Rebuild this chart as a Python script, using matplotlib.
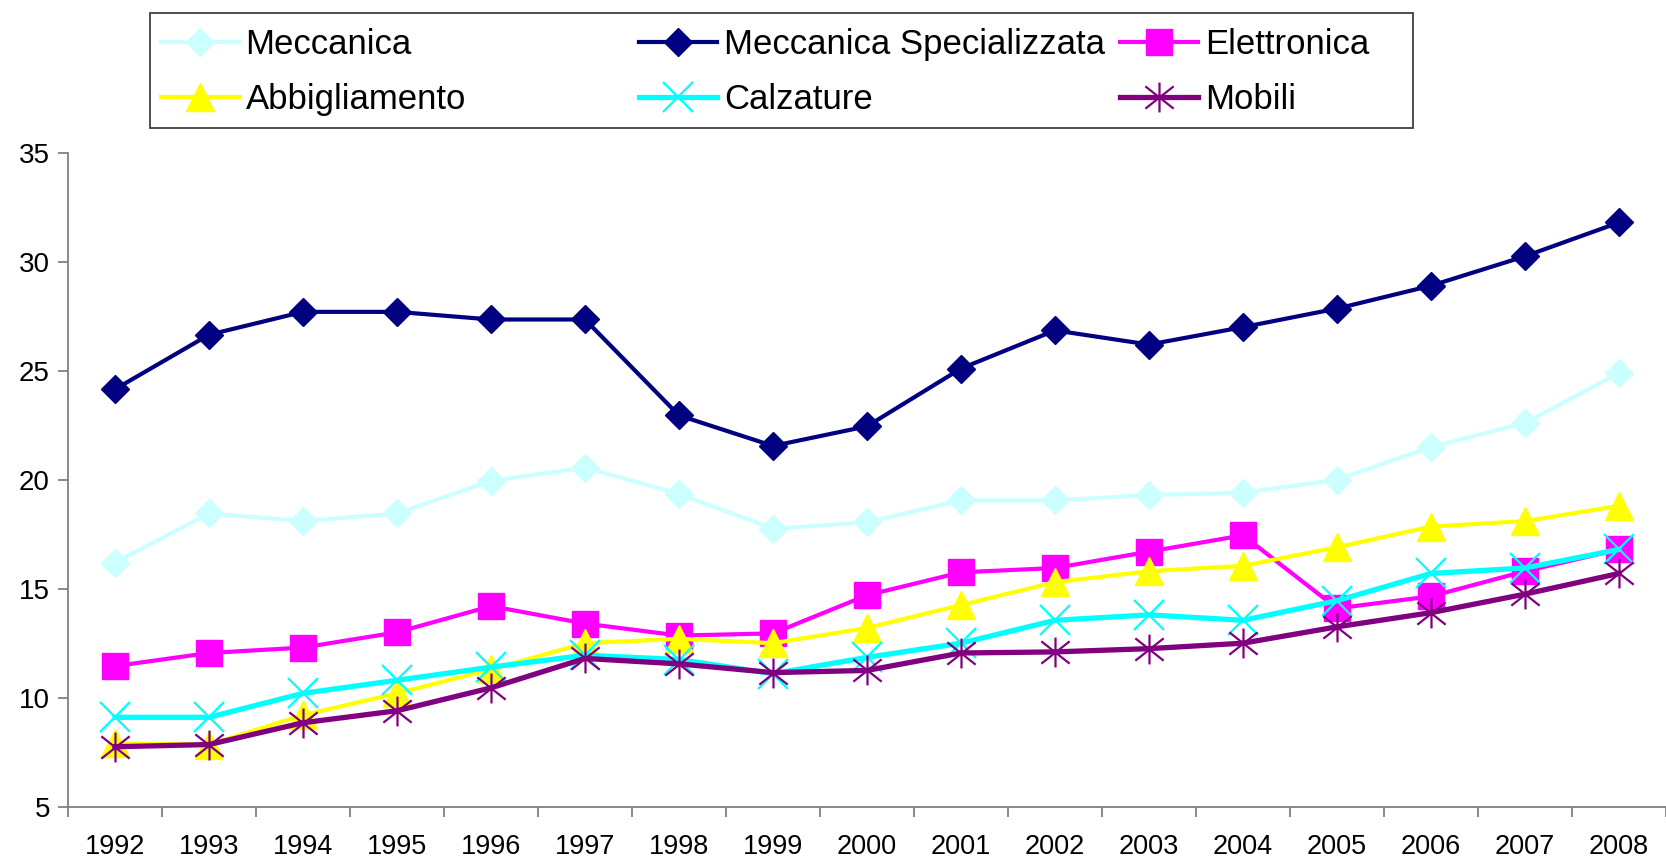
import numpy as np
import matplotlib
matplotlib.use("Agg")
from matplotlib import pyplot as plt
from matplotlib.path import Path
from matplotlib.patches import Rectangle

plt.rcParams['font.family'] = ['Liberation Sans', 'DejaVu Sans']

years = [str(y) for y in range(1992, 2009)]
meccanica = [16.2, 18.45, 18.1, 18.45, 19.95, 20.55, 19.35, 17.75, 18.05, 19.05, 19.05, 19.3, 19.4, 20.0, 21.5, 22.6, 24.9]
mecc_spec = [24.15, 26.65, 27.7, 27.7, 27.35, 27.35, 22.95, 21.55, 22.45, 25.1, 26.85, 26.2, 27.0, 27.85, 28.9, 30.25, 31.8]
elettronica = [11.45, 12.05, 12.3, 13.0, 14.2, 13.4, 12.85, 12.95, 14.7, 15.75, 15.95, 16.7, 17.45, 14.1, 14.65, 15.8, 16.8]
abbigliamento = [7.9, 7.85, 9.2, 10.2, 11.3, 12.5, 12.7, 12.5, 13.2, 14.25, 15.3, 15.8, 16.05, 16.9, 17.85, 18.1, 18.8]
calzature = [9.1, 9.1, 10.2, 10.8, 11.4, 11.95, 11.75, 11.1, 11.85, 12.5, 13.55, 13.8, 13.55, 14.45, 15.7, 15.95, 16.8]
mobili = [7.75, 7.85, 8.85, 9.4, 10.45, 11.8, 11.55, 11.15, 11.25, 12.05, 12.1, 12.25, 12.5, 13.25, 13.9, 14.75, 15.7]

# asterisk marker like the excel one (vertical bar + X)
star = Path([(0, -1), (0, 1), (-0.95, -0.75), (0.95, 0.75), (-0.95, 0.75), (0.95, -0.75)],
            [Path.MOVETO, Path.LINETO] * 3)

fig = plt.figure(figsize=(16.66, 8.61), dpi=100)
ax = fig.add_axes([0.0408, 0.0631, 0.9592, 0.7595])
x = np.arange(len(years))

h_mec, = ax.plot(x, meccanica, color='#CCFFFF', lw=3.0, marker='D', ms=14.5, label='Meccanica')
h_spec, = ax.plot(x, mecc_spec, color='#000080', lw=3.0, marker='D', ms=14.5, label='Meccanica Specializzata')
h_ele, = ax.plot(x, elettronica, color='#FF00FF', lw=3.0, marker='s', ms=19, label='Elettronica')
h_abb, = ax.plot(x, abbigliamento, color='#FFFF00', lw=3.0, marker='^', ms=20, label='Abbigliamento')
h_cal, = ax.plot(x, calzature, color='#00FFFF', lw=3.8, marker='x', ms=21, mew=1.6, label='Calzature')
h_mob, = ax.plot(x, mobili, color='#800080', lw=3.8, marker=star, ms=21.5, mew=1.6, label='Mobili')

ax.set_xlim(-0.5, len(years) - 0.5)
ax.set_ylim(5, 35)
ax.set_yticks(range(5, 36, 5))
ax.set_xticks(x)
ax.set_xticklabels(years)
ax.set_xticks(np.arange(-0.5, len(years), 1.0), minor=True)
ax.tick_params(axis='x', which='major', length=0, labelsize=19.5, pad=20)
ax.tick_params(axis='x', which='minor', length=7, color='#808080', width=1.3)
ax.tick_params(axis='y', length=7, color='#808080', width=1.3, labelsize=20, pad=6)
for s in ['top', 'right']:
    ax.spines[s].set_visible(False)
for s in ['left', 'bottom']:
    ax.spines[s].set_color('#808080')
    ax.spines[s].set_linewidth(1.3)
    ax.spines[s].set_clip_on(False)

# legend: excel style, three equally spaced columns inside one frame
fig.patches.append(Rectangle((0.09, 0.8517), 0.758, 0.1329, transform=fig.transFigure,
                             fill=False, edgecolor='#404040', lw=1.3))
cols = [(0.0965, [h_mec, h_abb]), (0.3836, [h_spec, h_cal]), (0.6723, [h_ele, h_mob])]
for xa, hs in cols:
    leg = fig.legend(handles=hs, loc='center left', bbox_to_anchor=(xa, 0.9165),
                     frameon=False, fontsize=25, borderpad=0, borderaxespad=0,
                     handlelength=2.24, handletextpad=0.2, labelspacing=0.62)

fig.savefig('out.png', dpi=100)
